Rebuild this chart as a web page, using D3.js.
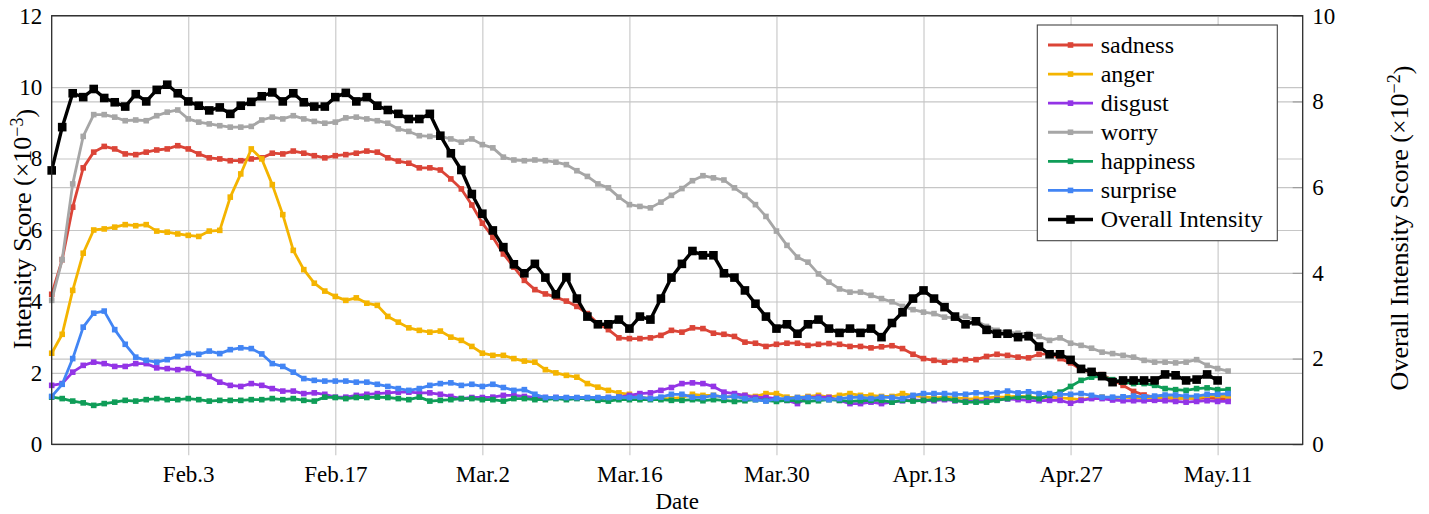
<!DOCTYPE html>
<html>
<head>
<meta charset="utf-8">
<script src="https://cdn.jsdelivr.net/npm/d3@7"></script>
<style>
  body { margin: 0; background: #fff; }
  svg { display: block; font-family: "Liberation Serif", "DejaVu Serif", serif; }
</style>
</head>
<body>
<svg id="chart" width="1429" height="514"></svg>
<script>
// daily values, first day is Jan 21 2020
var startDate = new Date(Date.UTC(2020, 0, 21));
var endDate = new Date(Date.UTC(2020, 4, 19, 2, 24));

var seriesNames = ["sadness", "anger", "disgust", "worry", "happiness", "surprise"];
var overallName = "Overall Intensity";

var tickDates = [[1, 3], [1, 17], [2, 2], [2, 16], [2, 30], [3, 13], [3, 27], [4, 11]];
var tickLabels = ["Feb.3", "Feb.17", "Mar.2", "Mar.16", "Mar.30", "Apr.13", "Apr.27", "May.11"];
var leftTicks = [0, 2, 4, 6, 8, 10, 12];
var rightTicks = [0, 2, 4, 6, 8, 10];

var sadness = [4.20, 5.17, 6.64, 7.74, 8.18, 8.34, 8.27, 8.13, 8.11, 8.18, 8.24, 8.27, 8.36, 8.27, 8.13, 8.02, 7.99, 7.94, 7.94, 7.99,
  8.02, 8.15, 8.13, 8.21, 8.15, 8.08, 8.02, 8.08, 8.11, 8.15, 8.21, 8.18, 8.02, 7.93, 7.87, 7.74, 7.74, 7.68, 7.43, 7.15,
  6.70, 6.19, 5.80, 5.33, 4.96, 4.59, 4.33, 4.21, 4.12, 4.01, 3.86, 3.66, 3.38, 3.21, 2.98, 2.96, 2.96, 2.98, 3.05, 3.19,
  3.14, 3.26, 3.24, 3.11, 3.08, 3.02, 2.86, 2.83, 2.74, 2.80, 2.83, 2.83, 2.77, 2.80, 2.82, 2.80, 2.74, 2.74, 2.70, 2.73,
  2.76, 2.68, 2.52, 2.40, 2.35, 2.30, 2.35, 2.37, 2.37, 2.46, 2.52, 2.49, 2.44, 2.42, 2.52, 2.54, 2.40, 2.28, 2.09, 2.02,
  1.95, 1.80, 1.65, 1.48, 1.38, 1.32, 1.30, 1.28, 1.30, 1.28, 1.30, 1.28, 1.28];

var anger = [2.55, 3.08, 4.31, 5.35, 6.00, 6.03, 6.08, 6.15, 6.12, 6.15, 5.97, 5.94, 5.89, 5.85, 5.82, 5.97, 5.99, 6.92, 7.57, 8.27,
  7.99, 7.27, 6.43, 5.43, 4.89, 4.51, 4.29, 4.14, 4.03, 4.10, 3.95, 3.89, 3.58, 3.42, 3.26, 3.19, 3.14, 3.17, 3.00, 2.91,
  2.74, 2.55, 2.49, 2.49, 2.40, 2.33, 2.30, 2.09, 2.00, 1.93, 1.88, 1.70, 1.60, 1.51, 1.44, 1.40, 1.32, 1.28, 1.28, 1.28,
  1.31, 1.40, 1.37, 1.37, 1.32, 1.34, 1.37, 1.34, 1.42, 1.42, 1.32, 1.31, 1.34, 1.37, 1.32, 1.37, 1.42, 1.37, 1.37, 1.34,
  1.34, 1.42, 1.36, 1.33, 1.30, 1.32, 1.30, 1.28, 1.27, 1.30, 1.32, 1.33, 1.35, 1.33, 1.30, 1.32, 1.30, 1.28, 1.25, 1.30,
  1.32, 1.30, 1.32, 1.30, 1.28, 1.30, 1.32, 1.30, 1.28, 1.30, 1.35, 1.36, 1.33];

var disgust = [1.65, 1.70, 2.02, 2.21, 2.30, 2.26, 2.18, 2.18, 2.26, 2.26, 2.14, 2.12, 2.09, 2.12, 1.98, 1.90, 1.74, 1.65, 1.62, 1.70,
  1.65, 1.56, 1.49, 1.49, 1.42, 1.44, 1.40, 1.32, 1.32, 1.37, 1.40, 1.42, 1.44, 1.46, 1.46, 1.44, 1.44, 1.40, 1.34, 1.28,
  1.31, 1.31, 1.32, 1.37, 1.37, 1.34, 1.31, 1.31, 1.31, 1.30, 1.29, 1.29, 1.28, 1.31, 1.32, 1.37, 1.42, 1.44, 1.51, 1.59,
  1.70, 1.72, 1.70, 1.62, 1.46, 1.42, 1.37, 1.31, 1.31, 1.28, 1.23, 1.14, 1.31, 1.32, 1.31, 1.23, 1.14, 1.14, 1.18, 1.14,
  1.18, 1.22, 1.24, 1.23, 1.22, 1.25, 1.22, 1.20, 1.20, 1.22, 1.25, 1.27, 1.25, 1.23, 1.22, 1.23, 1.23, 1.15, 1.23, 1.28,
  1.28, 1.24, 1.22, 1.22, 1.22, 1.23, 1.22, 1.20, 1.18, 1.20, 1.22, 1.20, 1.20];

var worry = [4.03, 5.17, 7.29, 8.62, 9.23, 9.23, 9.16, 9.06, 9.08, 9.06, 9.20, 9.30, 9.36, 9.11, 9.02, 8.97, 8.92, 8.88, 8.88, 8.90,
  9.08, 9.16, 9.11, 9.20, 9.11, 9.04, 8.99, 9.02, 9.14, 9.16, 9.11, 9.06, 8.99, 8.83, 8.76, 8.64, 8.62, 8.62, 8.55, 8.46,
  8.55, 8.39, 8.30, 8.04, 7.96, 7.94, 7.96, 7.94, 7.90, 7.83, 7.66, 7.50, 7.29, 7.18, 6.92, 6.71, 6.66, 6.62, 6.78, 6.97,
  7.16, 7.38, 7.52, 7.46, 7.40, 7.18, 6.97, 6.71, 6.38, 5.97, 5.57, 5.24, 5.10, 4.77, 4.54, 4.35, 4.26, 4.26, 4.17, 4.08,
  3.99, 3.86, 3.77, 3.70, 3.66, 3.56, 3.54, 3.58, 3.47, 3.30, 3.19, 3.14, 3.11, 3.10, 3.02, 2.91, 2.98, 2.83, 2.77, 2.69,
  2.58, 2.54, 2.49, 2.44, 2.35, 2.30, 2.30, 2.28, 2.30, 2.37, 2.21, 2.12, 2.05];

var happiness = [1.32, 1.28, 1.21, 1.16, 1.09, 1.14, 1.18, 1.23, 1.21, 1.25, 1.28, 1.25, 1.25, 1.28, 1.25, 1.21, 1.23, 1.23, 1.23, 1.25,
  1.25, 1.28, 1.25, 1.28, 1.23, 1.21, 1.32, 1.31, 1.28, 1.31, 1.31, 1.32, 1.31, 1.28, 1.25, 1.32, 1.21, 1.23, 1.25, 1.28,
  1.28, 1.25, 1.25, 1.21, 1.28, 1.28, 1.25, 1.25, 1.28, 1.25, 1.28, 1.28, 1.23, 1.21, 1.25, 1.25, 1.25, 1.25, 1.25, 1.23,
  1.23, 1.25, 1.22, 1.25, 1.23, 1.20, 1.22, 1.25, 1.22, 1.20, 1.23, 1.22, 1.20, 1.22, 1.25, 1.23, 1.20, 1.22, 1.23, 1.23,
  1.18, 1.23, 1.21, 1.23, 1.25, 1.28, 1.23, 1.18, 1.18, 1.18, 1.23, 1.28, 1.32, 1.32, 1.28, 1.37, 1.46, 1.62, 1.79, 1.88,
  1.90, 1.81, 1.74, 1.70, 1.70, 1.65, 1.56, 1.53, 1.51, 1.56, 1.58, 1.53, 1.53];

var surprise = [1.34, 1.68, 2.40, 3.28, 3.67, 3.73, 3.21, 2.80, 2.44, 2.35, 2.30, 2.37, 2.46, 2.54, 2.52, 2.61, 2.54, 2.65, 2.70, 2.68,
  2.53, 2.26, 2.18, 2.02, 1.84, 1.79, 1.77, 1.77, 1.77, 1.74, 1.74, 1.68, 1.62, 1.56, 1.51, 1.56, 1.65, 1.70, 1.72, 1.65,
  1.68, 1.62, 1.68, 1.59, 1.51, 1.53, 1.40, 1.31, 1.31, 1.31, 1.31, 1.31, 1.31, 1.31, 1.32, 1.31, 1.32, 1.28, 1.32, 1.40,
  1.40, 1.32, 1.31, 1.37, 1.32, 1.34, 1.28, 1.25, 1.21, 1.28, 1.28, 1.31, 1.31, 1.28, 1.25, 1.28, 1.31, 1.32, 1.28, 1.32,
  1.31, 1.28, 1.37, 1.42, 1.42, 1.42, 1.40, 1.40, 1.44, 1.42, 1.44, 1.49, 1.44, 1.47, 1.42, 1.42, 1.40, 1.40, 1.42, 1.37,
  1.32, 1.32, 1.33, 1.35, 1.33, 1.35, 1.38, 1.38, 1.35, 1.35, 1.40, 1.40, 1.42];

// right axis (x10^-2)
var overall = [6.39, 7.40, 8.19, 8.10, 8.29, 8.08, 7.98, 7.88, 8.17, 8.00, 8.27, 8.39, 8.19, 8.00, 7.90, 7.79, 7.86, 7.71, 7.90, 7.99,
  8.12, 8.21, 8.00, 8.19, 7.98, 7.88, 7.88, 8.10, 8.20, 8.00, 8.10, 7.90, 7.80, 7.71, 7.59, 7.59, 7.71, 7.20, 6.79, 6.40,
  5.84, 5.38, 4.99, 4.60, 4.20, 3.99, 4.21, 3.89, 3.50, 3.90, 3.40, 2.98, 2.80, 2.80, 2.91, 2.70, 2.98, 2.91, 3.40, 3.89,
  4.21, 4.51, 4.41, 4.41, 3.99, 3.89, 3.59, 3.28, 2.98, 2.70, 2.80, 2.58, 2.80, 2.91, 2.70, 2.60, 2.70, 2.60, 2.70, 2.50,
  2.83, 3.08, 3.40, 3.59, 3.40, 3.20, 2.98, 2.80, 2.87, 2.67, 2.58, 2.58, 2.50, 2.52, 2.28, 2.10, 2.10, 1.97, 1.76, 1.69,
  1.59, 1.45, 1.49, 1.49, 1.49, 1.49, 1.63, 1.61, 1.49, 1.51, 1.63, 1.49];

var colors = ["#DB4437", "#F4B400", "#9334E6", "#A6A6A6", "#0F9D58", "#4285F4"];

var plotL = 51.7, plotR = 1302.7, plotT = 15.7, plotB = 444.3;

var svg = d3.select("#chart");

var x = d3.scaleUtc().domain([startDate, endDate]).range([plotL, plotR]);
var yL = d3.scaleLinear().domain([0, 12]).range([plotB, plotT]);
var yR = d3.scaleLinear().domain([0, 10]).range([plotB, plotT]);

function dayOf(i) { return d3.utcDay.offset(startDate, i); }
var ticks = tickDates.map(function(d) { return new Date(Date.UTC(2020, d[0], d[1])); });

// grid
var grid = svg.append("g").attr("class", "grid");
grid.append("g")
    .attr("transform", "translate(0," + plotB + ")")
    .call(d3.axisBottom(x).tickValues(ticks).tickFormat("").tickSizeInner(-(plotB - plotT)).tickSizeOuter(0));
grid.append("g")
    .attr("transform", "translate(0," + plotB + ")")
    .call(d3.axisBottom(x).tickValues(ticks).tickFormat("").tickSizeInner(11).tickSizeOuter(0));
grid.append("g")
    .attr("transform", "translate(" + plotL + ",0)")
    .call(d3.axisLeft(yL).tickValues(leftTicks).tickFormat("").tickSizeInner(-(plotR - plotL)).tickSizeOuter(0));
grid.append("g")
    .attr("transform", "translate(" + plotR + ",0)")
    .call(d3.axisRight(yR).tickValues(rightTicks).tickFormat("").tickSizeInner(-(plotR - plotL)).tickSizeOuter(0));
grid.selectAll(".domain").remove();
grid.selectAll("line").attr("stroke", "#c6c6c6").attr("stroke-width", 1.1);

// right inner ticks a bit darker
svg.append("g")
    .attr("transform", "translate(" + plotR + ",0)")
    .call(d3.axisRight(yR).tickValues(rightTicks).tickFormat("").tickSizeInner(-10).tickSizeOuter(0))
  .call(function(g) { g.select(".domain").remove(); })
  .selectAll("line").attr("stroke", "#999").attr("stroke-width", 1.1);

// series
var emotions = [sadness, anger, disgust, worry, happiness, surprise];

emotions.forEach(function(vals, si) {
  var line = d3.line()
      .x(function(d, i) { return x(dayOf(i)); })
      .y(function(d) { return yL(d); });
  var g = svg.append("g").attr("class", "series");
  g.append("path")
      .datum(vals)
      .attr("d", line)
      .attr("fill", "none")
      .attr("stroke", colors[si])
      .attr("stroke-width", 2.8)
      .attr("stroke-linejoin", "round");
  g.selectAll("rect")
      .data(vals)
    .enter().append("rect")
      .attr("x", function(d, i) { return x(dayOf(i)) - 2.8; })
      .attr("y", function(d) { return yL(d) - 2.8; })
      .attr("width", 5.6)
      .attr("height", 5.6)
      .attr("fill", colors[si]);
});

var overallLine = d3.line()
    .x(function(d, i) { return x(dayOf(i)); })
    .y(function(d) { return yR(d); });
var og = svg.append("g").attr("class", "overall");
og.append("path")
    .datum(overall)
    .attr("d", overallLine)
    .attr("fill", "none")
    .attr("stroke", "#000")
    .attr("stroke-width", 3.4)
    .attr("stroke-linejoin", "round");
og.selectAll("rect")
    .data(overall)
  .enter().append("rect")
    .attr("x", function(d, i) { return x(dayOf(i)) - 4.3; })
    .attr("y", function(d) { return yR(d) - 4.3; })
    .attr("width", 8.6)
    .attr("height", 8.6)
    .attr("fill", "#000");

// frame
svg.append("rect")
    .attr("x", plotL).attr("y", plotT)
    .attr("width", plotR - plotL).attr("height", plotB - plotT)
    .attr("fill", "none").attr("stroke", "#2a2a2a").attr("stroke-width", 1.3);

// tick labels
var xAxis = svg.append("g")
    .attr("transform", "translate(0," + plotB + ")")
    .call(d3.axisBottom(x).tickValues(ticks)
      .tickFormat(function(d, i) { return tickLabels[i]; })
      .tickSize(0).tickPadding(21.5));
var yAxisL = svg.append("g")
    .attr("transform", "translate(" + plotL + ",0)")
    .call(d3.axisLeft(yL).tickValues(leftTicks).tickSize(0).tickPadding(9.5));
var yAxisR = svg.append("g")
    .attr("transform", "translate(" + plotR + ",0)")
    .call(d3.axisRight(yR).tickValues(rightTicks).tickSize(0).tickPadding(9.5));

[xAxis, yAxisL, yAxisR].forEach(function(a) {
  a.select(".domain").remove();
  a.selectAll("text")
      .attr("fill", "#000")
      .style("font-family", "'Liberation Serif', serif")
      .style("font-size", "23px");
});

// axis titles
svg.append("text")
    .attr("x", (plotL + plotR) / 2)
    .attr("y", 509)
    .attr("text-anchor", "middle")
    .style("font-size", "23px")
    .text("Date");

function axisTitle(tx, ty, label, exp) {
  var t = svg.append("text")
      .attr("transform", "translate(" + tx + "," + ty + ") rotate(-90)")
      .attr("text-anchor", "middle")
      .style("font-size", "26px");
  t.append("tspan").text(label + " (\u00d710");
  t.append("tspan").attr("dy", "-0.42em").style("font-size", "18px").text(exp);
  t.append("tspan").attr("dy", "0.42em").text(")");
}
axisTitle(31, 229, "Intensity Score", "\u22123");
axisTitle(1408, 228, "Overall Intensity Score", "\u22122");

// legend
var legendItems = seriesNames.map(function(n, i) { return { name: n, color: colors[i], big: false }; });
legendItems.push({ name: overallName, color: "#000", big: true });

var legend = svg.append("g").attr("class", "legend");
legend.append("rect")
    .attr("x", 1037.3).attr("y", 25)
    .attr("width", 240).attr("height", 215.7)
    .attr("fill", "#fff").attr("stroke", "#444").attr("stroke-width", 1.1);

var rowY = d3.scaleLinear().domain([0, 6]).range([45, 219.5]);
var item = legend.selectAll(".item")
    .data(legendItems)
  .enter().append("g")
    .attr("class", "item")
    .attr("transform", function(d, i) { return "translate(0," + rowY(i) + ")"; });
item.append("line")
    .attr("x1", 1048).attr("x2", 1093)
    .attr("stroke", function(d) { return d.color; })
    .attr("stroke-width", function(d) { return d.big ? 3.4 : 2.8; });
item.append("rect")
    .attr("x", function(d) { return 1070.5 - (d.big ? 4.3 : 2.8); })
    .attr("y", function(d) { return d.big ? -4.3 : -2.8; })
    .attr("width", function(d) { return d.big ? 8.6 : 5.6; })
    .attr("height", function(d) { return d.big ? 8.6 : 5.6; })
    .attr("fill", function(d) { return d.color; });
item.append("text")
    .attr("x", 1100.7)
    .attr("y", 7.5)
    .style("font-size", "24px")
    .text(function(d) { return d.name; });
</script>
</body>
</html>
